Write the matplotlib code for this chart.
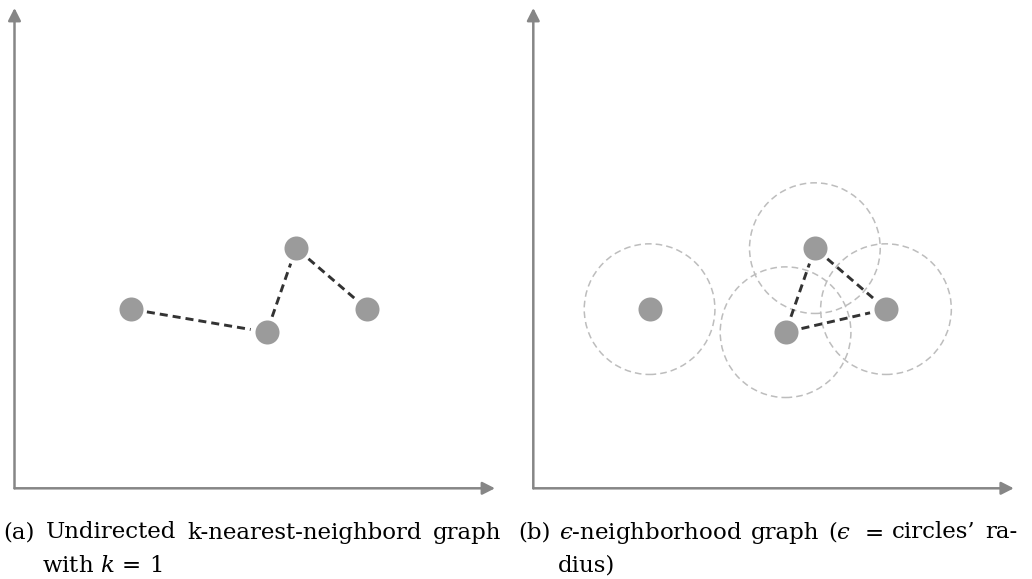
import numpy as np
import matplotlib
matplotlib.use("Agg")
import matplotlib.pyplot as plt
from matplotlib.patches import Circle

plt.rcParams['mathtext.fontset'] = 'dejavuserif'
plt.rcParams['lines.scale_dashes'] = False

# ---- data ----
pts_x = [2.42, 5.25, 5.86, 7.34]
pts_y = [3.73, 3.25, 5.00, 3.73]
knn_edges = [(0, 1), (1, 2), (2, 3)]
eps_edges = [(1, 2), (2, 3), (1, 3)]
eps_radius = 1.36

cap_a_line1 = ["(a)", "Undirected", "k-nearest-neighbord", "graph"]
cap_a_line2 = "with $k\\,=\\,1$"
cap_b_line1 = ["(b)", "$\u03f5$-neighborhood", "graph", "($\u03f5$", "$=$", "circles\u2019", "ra-"]
cap_b_line2 = "dius)"

W, H = 1032, 579
fig = plt.figure(figsize=(W / 100, H / 100), dpi=100)

AXC = '#868686'
PTC = '#9b9b9b'
EDC = '#333333'
CIC = '#bdbdbd'
shrink = 0.34  # data units


def make_panel(x0px):
    ax = fig.add_axes([x0px / W, (H - 488.3) / H, 480.5 / W, 480.3 / H])
    ax.set_xlim(0, 10)
    ax.set_ylim(0, 10)
    ax.axis('off')
    for xy in [(10, 0), (0, 10)]:
        ax.annotate("", xy=xy, xytext=(0, 0), xycoords='data',
                    arrowprops=dict(arrowstyle='-|>,head_length=0.75,head_width=0.38',
                                    color=AXC, lw=1.8, shrinkA=0, shrinkB=0,
                                    mutation_scale=10), annotation_clip=False)
    return ax


def draw_edges(ax, edges):
    for a, b in edges:
        p = np.array([pts_x[a], pts_y[a]])
        q = np.array([pts_x[b], pts_y[b]])
        d = (q - p) / np.linalg.norm(q - p)
        p2 = p + d * shrink
        q2 = q - d * shrink
        ax.plot([p2[0], q2[0]], [p2[1], q2[1]], color=EDC, lw=2.1,
                dashes=(5.8, 3.6), solid_capstyle='butt', dash_capstyle='butt',
                zorder=2, clip_on=False)


def draw_points(ax):
    ax.plot(pts_x, pts_y, 'o', ms=17.3, color=PTC, mec='none', zorder=3, clip_on=False)


ax1 = make_panel(14.5)
draw_edges(ax1, knn_edges)
draw_points(ax1)

ax2 = make_panel(533.3)
for cx, cy in zip(pts_x, pts_y):
    c = Circle((cx, cy), eps_radius, fill=False, ec=CIC, lw=1.1,
               linestyle=(0, (4.8, 2.9)), zorder=1, clip_on=False)
    ax2.add_patch(c)
draw_edges(ax2, eps_edges)
draw_points(ax2)

# ---- captions ----
FS = 16.5
FONT = 'DejaVu Serif'
renderer = fig.canvas.get_renderer()


def justified(words, x0, x1, ybase):
    texts = []
    widths = []
    for w in words:
        t = fig.text(0, 0, w, fontsize=FS, family=FONT, va='baseline', ha='left',
                     transform=None)
        bb = t.get_window_extent(renderer=renderer)
        widths.append(bb.width)
        texts.append(t)
    gap = (x1 - x0 - sum(widths)) / (len(words) - 1)
    x = x0
    for t, wd in zip(texts, widths):
        t.set_position((x, H - ybase))
        x += wd + gap


justified(cap_a_line1, 3.5, 501, 538.5)
fig.text(41.7 / W, 1 - 571.5 / H, cap_a_line2, fontsize=FS, family=FONT, va='baseline', ha='left')
justified(cap_b_line1, 518, 1017, 538.5)
fig.text(557.7 / W, 1 - 571.5 / H, cap_b_line2, fontsize=FS, family=FONT, va='baseline', ha='left')

fig.savefig('out.png', dpi=100)
